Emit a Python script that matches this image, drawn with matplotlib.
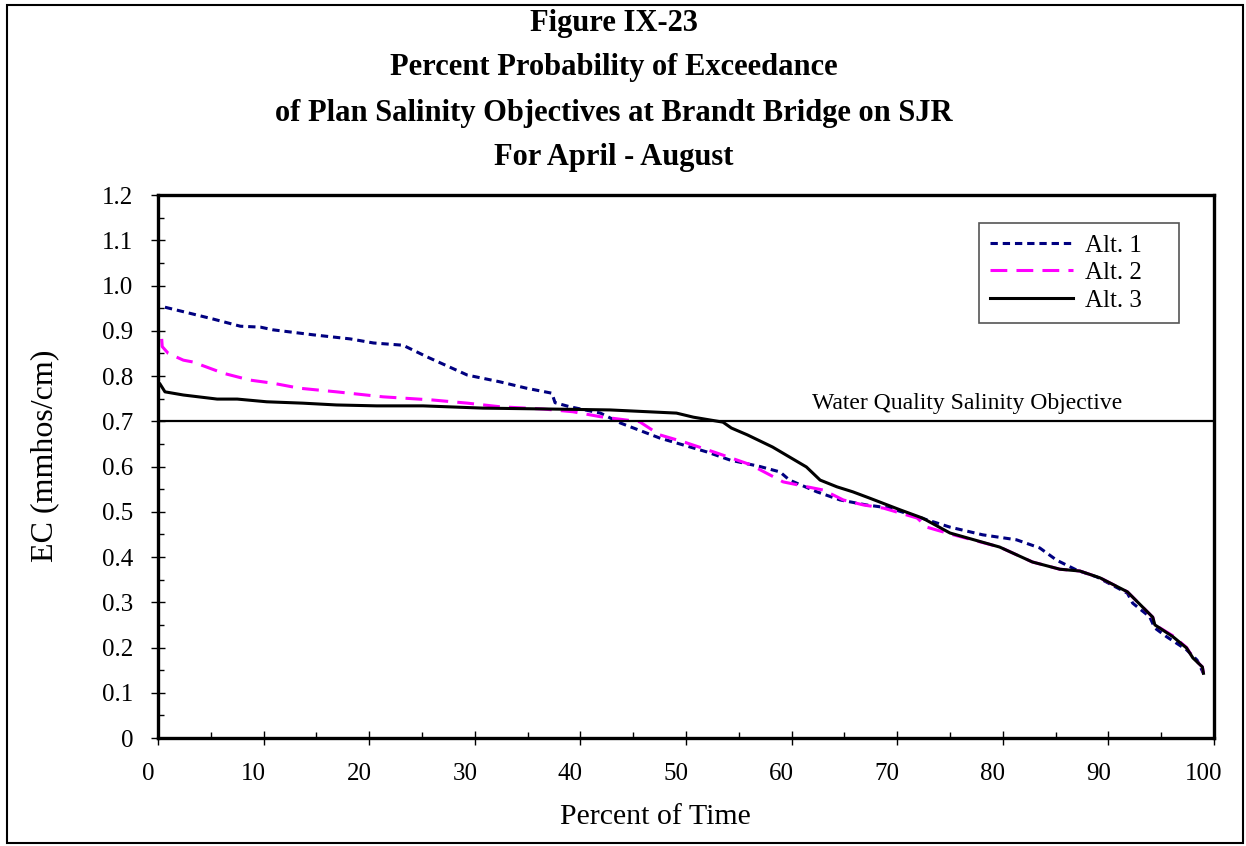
import matplotlib as mpl
mpl.use('Agg')
import numpy as np
import matplotlib.pyplot as plt
import matplotlib.transforms as mtransforms
from matplotlib.patches import Rectangle

# percent of time vs EC (mmhos/cm)
alt1_x = [0.66, 2.6, 5.2, 7.8, 9.7, 10.9, 14.7, 18.2, 20.4, 23.2, 25.5, 29.3, 32.4, 34.9, 37.3, 37.6,
          39.0, 41.9, 43.8, 47.5, 52.0, 54.2, 57.0, 58.9, 59.8, 62.4, 64.6, 67.1, 69.3, 71.9, 75.0,
          78.1, 81.3, 83.5, 85.1, 87.0, 88.9, 91.8, 92.3, 93.9, 94.4, 95.5, 97.4, 98.4, 99.0]
alt1_y = [0.952, 0.941, 0.926, 0.910, 0.908, 0.902, 0.891, 0.882, 0.873, 0.868, 0.842, 0.802, 0.787,
          0.773, 0.762, 0.741, 0.732, 0.718, 0.696, 0.663, 0.632, 0.614, 0.600, 0.588, 0.570, 0.544,
          0.526, 0.515, 0.508, 0.489, 0.466, 0.449, 0.438, 0.420, 0.393, 0.371, 0.356, 0.320, 0.298,
          0.268, 0.243, 0.224, 0.195, 0.172, 0.143]

alt2_x = [0.35, 0.4, 0.97, 2.4, 3.3, 6.2, 8.7, 10.9, 13.4, 16.9, 21.3, 26.0, 29.3, 32.4, 36.5, 39.3,
          41.9, 45.6, 47.5, 49.7, 52.9, 56.1, 59.2, 61.5, 63.0, 64.9, 66.8, 68.7, 71.9, 72.8, 75.0,
          79.7, 82.8, 85.4, 87.3, 89.2, 91.8, 94.2, 94.4, 96.1, 97.4, 98.0, 98.9, 99.0]
alt2_y = [0.882, 0.865, 0.850, 0.835, 0.831, 0.806, 0.791, 0.784, 0.773, 0.765, 0.754, 0.747, 0.740,
          0.732, 0.727, 0.721, 0.710, 0.699, 0.670, 0.655, 0.630, 0.604, 0.566, 0.555, 0.548, 0.526,
          0.515, 0.508, 0.486, 0.466, 0.451, 0.422, 0.389, 0.373, 0.369, 0.354, 0.323, 0.267, 0.250,
          0.226, 0.200, 0.178, 0.157, 0.143]

alt3_x = [0.2, 0.66, 2.4, 5.6, 7.5, 10.3, 13.7, 16.9, 20.7, 25.1, 30.8, 37.1, 42.8, 49.1, 50.7, 53.5,
          54.3, 55.8, 58.2, 61.4, 62.7, 64.3, 65.8, 67.4, 70.3, 72.4, 75.0, 79.7, 82.8, 85.4, 87.3,
          89.2, 91.8, 94.2, 94.4, 96.1, 97.4, 98.0, 98.9, 99.0]
alt3_y = [0.782, 0.765, 0.758, 0.749, 0.749, 0.743, 0.740, 0.736, 0.734, 0.734, 0.729, 0.727, 0.725,
          0.718, 0.709, 0.698, 0.685, 0.670, 0.643, 0.599, 0.570, 0.555, 0.544, 0.530, 0.504, 0.486,
          0.453, 0.422, 0.389, 0.373, 0.369, 0.354, 0.323, 0.267, 0.250, 0.224, 0.199, 0.177, 0.157,
          0.143]

objective = 0.7
series_names = ['Alt. 1', 'Alt. 2', 'Alt. 3']
title_lines = ['Figure IX-23',
               'Percent Probability of Exceedance',
               'of Plan Salinity Objectives at Brandt Bridge on SJR',
               'For April - August']
x_ticks = list(range(0, 101, 10))
x_ticklabels = [str(v) for v in x_ticks]
y_ticks = [0, 0.1, 0.2, 0.3, 0.4, 0.5, 0.6, 0.7, 0.8, 0.9, 1.0, 1.1, 1.2]
y_ticklabels = ['0', '0.1', '0.2', '0.3', '0.4', '0.5', '0.6', '0.7', '0.8', '0.9', '1.0', '1.1', '1.2']

plt.rcParams['font.family'] = ['Liberation Serif', 'DejaVu Serif']

W, H = 1246, 846
fig = plt.figure(figsize=(W / 100, H / 100), dpi=100)
ax = fig.add_axes([158 / W, 1 - 738 / H, (1214 - 158) / W, (738 - 195) / H])

ax.plot(alt1_x, alt1_y, color='#000080', lw=2.2, dashes=(2.4, 1.6), label=series_names[0])
ax.plot(alt2_x, alt2_y, color='#ff00ff', lw=2.2, dashes=(5.5, 3), label=series_names[1])
ax.plot(alt3_x, alt3_y, color='black', lw=2.2, label=series_names[2])
ax.axhline(objective, color='black', lw=1.6)
ax.text(0.766, objective + 0.016, 'Water Quality Salinity Objective', transform=ax.get_yaxis_transform(),
        ha='center', va='bottom', fontsize=17)

ax.set_xlim(0, 100)
ax.set_ylim(0, 1.2)
ax.set_xticks(x_ticks)
ax.set_xticklabels(x_ticklabels)
ax.set_xticks(np.arange(5, 100, 10), minor=True)
ax.set_yticks(y_ticks)
ax.set_yticklabels(y_ticklabels)
ax.set_yticks(np.arange(0.05, 1.2, 0.1), minor=True)
ax.tick_params(which='major', direction='inout', length=10, width=1, labelsize=18)
ax.tick_params(which='minor', direction='in', length=4, width=1)
ax.tick_params(axis='y', pad=13)
ax.tick_params(axis='x', pad=13)
for s in ax.spines.values():
    s.set_linewidth(2.4)

# excel style: x labels sit a bit left of their ticks
shift = mtransforms.ScaledTranslation(-10 / 100, 0, fig.dpi_scale_trans)
for lab in ax.get_xticklabels():
    lab.set_transform(lab.get_transform() + shift)

fig.text(655 / W, 1 - 817 / H, 'Percent of Time', ha='center', va='center', fontsize=21.5)
fig.text(45 / W, 1 - 456 / H, 'EC (mmhos/cm)', ha='center', va='center', rotation=90, fontsize=23)

title_y = [23, 68, 113, 157]
for line, yy in zip(title_lines, title_y):
    fig.text(614 / W, 1 - yy / H, line, ha='center', va='center', fontsize=22, fontweight='bold')

h = 0.001
leg = ax.legend(loc='upper left', bbox_to_anchor=(979 / W, 1 - 223 / H - h, 200 / W, h),
                bbox_transform=fig.transFigure, mode='expand', borderaxespad=0, fontsize=18,
                handlelength=3.3, handletextpad=0.5, labelspacing=0.2, fancybox=False,
                framealpha=1, borderpad=0.45)
leg.get_frame().set_edgecolor('#555555')
leg.get_frame().set_linewidth(1.2)

fig.patches.append(Rectangle((7 / W, 3 / H), 1236 / W, 838 / H, transform=fig.transFigure,
                             fill=False, edgecolor='black', lw=1.5))

fig.savefig('out.png', dpi=100)
